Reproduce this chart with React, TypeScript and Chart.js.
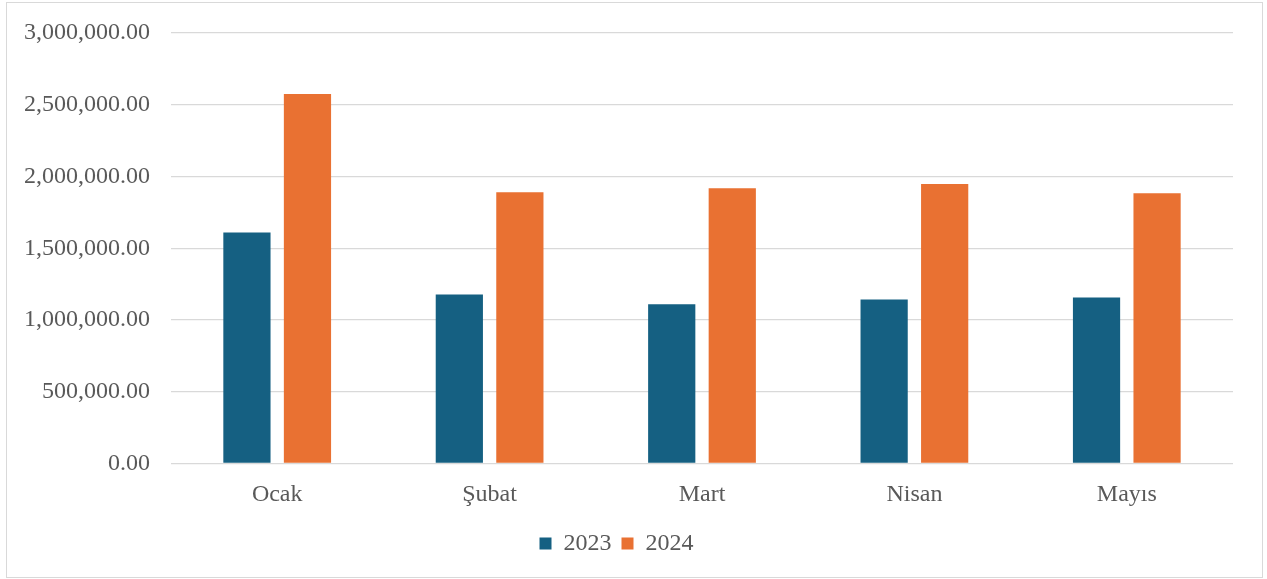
import React, { useEffect, useRef } from "react";
import { Chart, registerables } from "chart.js";

Chart.register(...registerables);

const categories = ["Ocak", "Şubat", "Mart", "Nisan", "Mayıs"];
const series2023 = [1610000, 1178000, 1110000, 1143000, 1157000];
const series2024 = [2575000, 1890000, 1918000, 1948000, 1883000];
const seriesLabels = ["2023", "2024"];
const yMax = 3000000;
const yStep = 500000;

const FONT = "'Liberation Serif', 'Times New Roman', serif";
const TEXT = "#595959";
const FS = 24;

export default function App() {
  const ref = useRef<HTMLCanvasElement | null>(null);

  useEffect(() => {
    if (!ref.current) return;
    const chart = new Chart(ref.current, {
      type: "bar",
      data: {
        labels: categories,
        datasets: [
          {
            label: seriesLabels[0],
            data: series2023,
            backgroundColor: "#156082",
            categoryPercentage: 0.57,
            barPercentage: 0.78,
          },
          {
            label: seriesLabels[1],
            data: series2024,
            backgroundColor: "#E97132",
            categoryPercentage: 0.57,
            barPercentage: 0.78,
          },
        ],
      },
      options: {
        responsive: false,
        animation: false,
        layout: { padding: { top: 33, right: 34, bottom: 13.5, left: 0 } },
        plugins: {
          tooltip: { enabled: false },
          legend: {
            position: "bottom",
            labels: {
              boxWidth: 12,
              boxHeight: 12,
              padding: 10,
              color: TEXT,
              font: { family: FONT, size: FS },
            },
          },
        },
        scales: {
          x: {
            grid: { display: false },
            border: { display: false },
            ticks: {
              color: TEXT,
              padding: 9,
              font: { family: FONT, size: FS },
              maxRotation: 0,
            },
            afterFit: (axis: any) => {
              axis.height = 58;
            },
          },
          y: {
            min: 0,
            max: yMax,
            border: { display: false },
            grid: { color: "#d9d9d9", lineWidth: 1.3, drawTicks: false },
            ticks: {
              stepSize: yStep,
              color: TEXT,
              padding: 21,
              font: { family: FONT, size: FS, lineHeight: 1 },
              callback: (v: any) =>
                Number(v).toLocaleString("en-US", {
                  minimumFractionDigits: 2,
                  maximumFractionDigits: 2,
                }),
            },
            afterFit: (axis: any) => {
              axis.width = 171;
            },
          },
        },
      },
    });
    return () => chart.destroy();
  }, []);

  return (
    <div
      style={{
        position: "fixed",
        left: 0,
        top: 0,
        width: 1267,
        height: 579,
        background: "#fff",
      }}
    >
      <div
        style={{
          position: "absolute",
          left: 6,
          top: 2,
          width: 1255,
          height: 574,
          border: "1px solid #d9d9d9",
        }}
      />
      <canvas
        ref={ref}
        width={1267}
        height={579}
        style={{ position: "absolute", left: 0, top: 0, width: 1267, height: 579 }}
      />
    </div>
  );
}
